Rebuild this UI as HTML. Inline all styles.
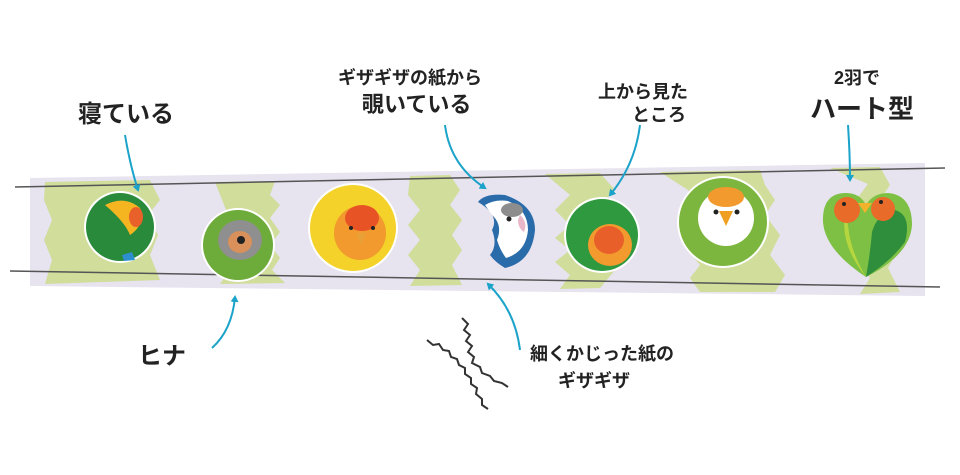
<!DOCTYPE html>
<html><head><meta charset="utf-8"><style>
html,body{margin:0;padding:0;background:#fff;}
svg{display:block;}
text{font-family:"Liberation Sans","Noto Sans CJK JP",sans-serif;font-weight:bold;fill:#222;}
</style></head><body>
<svg width="960" height="475" viewBox="0 0 960 475" xmlns="http://www.w3.org/2000/svg">
<defs>
<marker id="ah" markerWidth="8" markerHeight="8" refX="5" refY="4" orient="auto" markerUnits="userSpaceOnUse"><path d="M0,0 L7,4 L0,8 z" fill="#1ba3c9"/></marker>
</defs>
<polygon points="30,178 925,163 925,296 30,286" fill="#e7e3ef"/>
<g fill="#d0dd9b">
<polygon points="45,182 150,180 160,200 148,215 158,235 150,255 160,280 45,284 52,260 44,240 52,220 44,200"/>
<polygon points="215,182 275,181 270,195 280,205 270,218 280,232 270,245 280,258 272,270 285,283 220,284 230,270 218,258 230,245 218,230 228,215"/>
<polygon points="410,176 450,175 460,190 450,205 462,220 452,235 462,250 452,265 462,285 410,286 420,270 408,255 420,240 408,225 420,210 408,195"/>
<polygon points="545,174 600,173 615,190 605,200 618,212 605,225 620,240 600,255 615,270 600,288 560,289 570,275 555,262 570,250 555,238 570,225 555,210 570,195"/>
<polygon points="660,172 760,170 765,185 775,200 765,215 780,235 770,255 785,275 775,292 700,292 690,278 700,265 688,250 700,235 688,220 700,205 688,190"/>
<polygon points="830,168 880,167 890,185 880,200 895,215 885,232 898,250 888,268 900,292 860,294 870,278 858,262 870,248 858,232 870,216 856,200 868,184"/>
</g>
<line x1="15" y1="187" x2="945" y2="168" stroke="#555" stroke-width="1.5"/>
<line x1="10" y1="271" x2="940" y2="287" stroke="#555" stroke-width="1.5"/>
<!-- bird 1 -->
<circle cx="120" cy="227" r="36" fill="#fff"/>
<circle cx="120" cy="227" r="34" fill="#2a8a3c"/>
<path d="M105,205 Q125,195 140,208 Q145,225 130,235 Q125,222 105,205z" fill="#f5b520"/>
<ellipse cx="136" cy="217" rx="7" ry="10" fill="#e8602a"/>
<path d="M122,255 L132,252 L135,260 L124,261z" fill="#2d8fd0"/>
<!-- bird 2 -->
<circle cx="238" cy="245" r="37" fill="#fff"/>
<circle cx="238" cy="245" r="35" fill="#6dab3a"/>
<ellipse cx="240" cy="240" rx="22" ry="20" fill="#8f8f8f"/>
<ellipse cx="240" cy="242" rx="12" ry="11" fill="#d9905a"/>
<circle cx="241" cy="240" r="4" fill="#222"/>
<!-- bird 3 -->
<circle cx="353" cy="228" r="45" fill="#fff"/>
<circle cx="353" cy="228" r="43" fill="#f4d22a"/>
<ellipse cx="360" cy="233" rx="26" ry="27" fill="#f29a2e"/>
<ellipse cx="362" cy="218" rx="17" ry="13" fill="#e85326"/>
<circle cx="351" cy="228" r="2" fill="#222"/><circle cx="373" cy="228" r="2" fill="#222"/>
<path d="M356,233 L366,233 L361,245z" fill="#e8a037"/>
<!-- bird 4 -->
<path d="M478,202 Q485,193 505,195 Q535,205 535,230 Q532,262 505,268 Q495,262 490,255 Q498,245 492,230 Q500,215 478,202z" fill="#2a6ba9"/>
<path d="M485,205 Q495,199 508,201 Q528,210 528,230 Q526,252 506,258 Q500,250 497,240 Q503,225 492,215z" fill="#fff"/>
<ellipse cx="512" cy="210" rx="11" ry="7" fill="#8d8d8d"/>
<circle cx="509" cy="219" r="2.5" fill="#222"/>
<path d="M520,215 Q528,222 524,232 Q518,228 518,220z" fill="#e9b8c8"/>
<!-- bird 5 -->
<circle cx="602" cy="235" r="38" fill="#fff"/>
<circle cx="602" cy="235" r="36" fill="#2f993f"/>
<ellipse cx="610" cy="245" rx="22" ry="21" fill="#f29a2e"/>
<ellipse cx="609" cy="240" rx="15" ry="14" fill="#e85f2a"/>
<!-- bird 6 -->
<circle cx="723" cy="222" r="46" fill="#fff"/>
<circle cx="723" cy="222" r="44" fill="#7cb63f"/>
<circle cx="726" cy="218" r="28" fill="#fff"/>
<ellipse cx="726" cy="197" rx="18" ry="10" fill="#f29a2e"/>
<path d="M719,211 L733,211 L726,226z" fill="#f0a020"/>
<circle cx="716" cy="212" r="2.5" fill="#222"/><circle cx="737" cy="212" r="2.5" fill="#222"/>
<!-- bird 7 heart -->
<path d="M866,277 Q825,250 823,222 Q822,193 846,193 Q860,193 866,205 Q873,193 888,193 Q912,195 912,225 Q910,255 866,277z" fill="#7dc043"/>
<path d="M845,215 Q840,245 866,277 Q850,250 848,225z" fill="#b6d63f"/>
<path d="M866,277 Q890,262 905,242 Q912,215 895,210 Q878,212 872,232 Q870,255 866,277z" fill="#2f8e3c"/>
<circle cx="847" cy="210" r="13" fill="#e86b2a"/>
<circle cx="883" cy="209" r="12" fill="#e86b2a"/>
<circle cx="844" cy="204" r="2" fill="#222"/><circle cx="881" cy="202" r="2" fill="#222"/>
<path d="M858,203 L872,203 L865,213z" fill="#f2b32a"/>
<!-- squiggles -->
<path d="M462,318 l6,6 -4,6 6,5 -4,6 6,5 -4,6 6,5 -2,6 8,4 2,6 8,3 4,5 8,2 6,4" fill="none" stroke="#333" stroke-width="2"/>
<path d="M427,340 l6,5 6,-1 4,6 6,1 2,6 6,2 2,6 6,3 0,6 6,4 0,6 6,4 -1,6 6,5 0,6 6,4" fill="none" stroke="#333" stroke-width="2"/>
<g fill="none" stroke="#1ba3c9" stroke-width="2" marker-end="url(#ah)">
<path d="M125,135 Q130,165 138,190"/>
<path d="M445,125 Q450,165 485,188"/>
<path d="M640,125 Q635,165 610,195"/>
<path d="M848,125 Q850,155 850,180"/>
<path d="M212,348 Q232,330 235,297"/>
<path d="M520,350 Q515,310 488,284"/>
</g>
<text x="78" y="122" font-size="24">寝ている</text>
<text x="338" y="84" font-size="18">ギザギザの紙から</text>
<text x="362" y="112" font-size="22">覗いている</text>
<text x="598" y="98" font-size="18">上から見た</text>
<text x="632" y="121" font-size="18">ところ</text>
<text x="834" y="84" font-size="18">2羽で</text>
<text x="810" y="118" font-size="26">ハート型</text>
<text x="138" y="364" font-size="24">ヒナ</text>
<text x="530" y="360" font-size="18">細くかじった紙の</text>
<text x="558" y="387" font-size="18">ギザギザ</text>
</svg>
</body></html>
